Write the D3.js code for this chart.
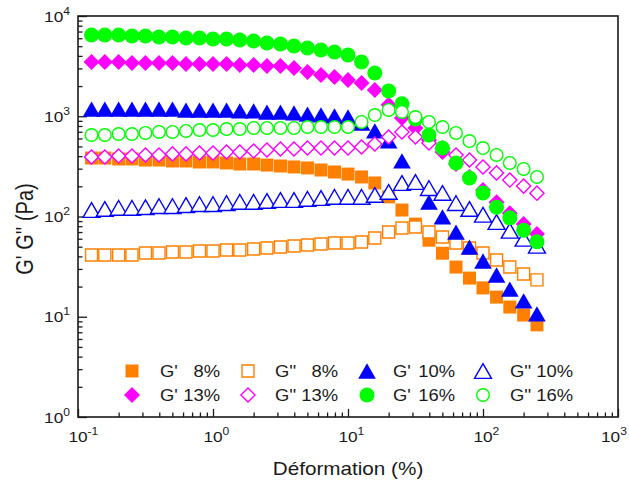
<!DOCTYPE html>
<html><head><meta charset="utf-8">
<script src="https://cdn.jsdelivr.net/npm/d3@7"></script>
<style>
body{margin:0;background:#fff}
svg{display:block}
text{font-family:"Liberation Sans",Arial,sans-serif;fill:#1a1a1a}
</style>
</head><body>
<svg id="c" width="629" height="483"></svg>
<script>
// ---- data ----
const strain = [0.126,0.158,0.2,0.251,0.316,0.398,0.501,0.631,0.794,1,1.26,1.58,2,2.51,3.16,3.98,5.01,6.31,7.94,10,12.6,15.8,20,25.1,31.6,39.8,50.1,63.1,79.4,100,126,158,200,251];
const gp8   = [383,383,375,375,366,366,358,358,350,350,342,334,334,326,319,312,305,291,278,265,248,216,157,116,84,58,43,31.3,24.3,19.4,15.7,12.5,10.4,8.3];
const gpp8  = [41.3,41.3,41.3,41.3,43.3,43.3,44.3,44.3,45.3,45.3,46.3,46.3,47.4,48.5,49.6,50.8,52,53.2,54.4,54.4,55.7,61,70,76.8,78.6,70,62.4,54.4,48.5,43.3,36.8,31.3,26.7,23.3];
const gp10  = [1180,1180,1180,1180,1180,1180,1180,1150,1150,1150,1150,1130,1130,1100,1100,1080,1050,1030,1010,983,856,713,567,358,221,139,99,70,49.6,36,26.1,18.9,14.4,10.7];
const gpp10 = [116,119,122,122,124,127,127,130,133,133,136,140,140,143,146,146,150,153,157,157,157,164,176,216,221,192,172,136,119,104,88,72,60,51];
const gp13  = [3480,3480,3480,3400,3400,3400,3400,3320,3320,3320,3320,3250,3250,3170,3170,3030,2760,2580,2460,2300,2150,1830,1300,960,763,580,440,334,248,184,139,108,84,67];
const gpp13 = [392,392,401,401,411,411,421,421,430,430,440,440,450,461,471,471,482,482,482,482,493,529,621,697,621,541,482,411,366,312,272,231,201,171];
const gp16  = [6460,6460,6460,6320,6320,6170,6170,6030,6030,5900,5900,5760,5630,5380,5260,5020,4800,4580,4380,4080,3480,2700,1790,1330,940,650,482,342,242,172,124,97,73,56];
const gpp16 = [650,650,665,665,681,697,697,713,729,729,746,746,764,764,764,764,781,781,781,781,877,1028,1155,1103,982,877,781,681,566,482,411,342,298,248];

const seriesNames = ["G'","G''","G'","G''","G'","G''","G'","G''"];
const seriesConc  = ["8%","8%","10%","10%","13%","13%","16%","16%"];
const seriesData  = [gp8,gpp8,gp10,gpp10,gp13,gpp13,gp16,gpp16];
const xMajor = [0.1,1,10,100,1000];
const xMajorExp = ["-1","0","1","2","3"];
const yMajor = [1,10,100,1000,10000];
const yMajorExp = ["0","1","2","3","4"];
const xTitle = "Déformation (%)";
const yTitle = "G' G'' (Pa)";

// ---- styles ----
const colors  = ["#ff8000","#ff8000","#0000ff","#0000ff","#ff00ff","#ff00ff","#00ff00","#00ff00"];
const shapes  = ["square","square","triangle","triangle","diamond","diamond","circle","circle"];
const filled  = [true,false,true,false,true,false,true,false];

const L=78,R=618,T=16,B=417, SX=1.15;
const svg = d3.select("#c");
const x = d3.scaleLog().domain([0.1,1000]).range([L,R]);
const y = d3.scaleLog().domain([1,10000]).range([B,T]);

function minorTicks(lo,hi){const t=[];for(let d=lo;d<hi;d*=10){for(let m=1;m<10;m++)t.push(d*m);}t.push(hi);return t;}
const xTicks = minorTicks(0.1,1000), yTicks = minorTicks(1,10000);
const isMajor = v => Math.abs(Math.log10(v)-Math.round(Math.log10(v)))<1e-6;

// axes ticks (inward)
const gx = svg.append("g").attr("transform",`translate(0,${B})`)
  .call(d3.axisBottom(x).tickValues(xTicks).tickSize(-8).tickFormat(()=>"").tickSizeOuter(0));
gx.select(".domain").remove();
gx.selectAll(".tick line").attr("stroke","#1a1a1a").attr("stroke-width",1.3).attr("y2",d=>isMajor(d)?-8:-4.5);
const gy = svg.append("g").attr("transform",`translate(${L},0)`)
  .call(d3.axisLeft(y).tickValues(yTicks).tickSize(-9).tickFormat(()=>"").tickSizeOuter(0));
gy.select(".domain").remove();
gy.selectAll(".tick line").attr("stroke","#1a1a1a").attr("stroke-width",1.3).attr("x2",d=>isMajor(d)?9:4.5);

// frame
svg.append("rect").attr("x",L).attr("y",T).attr("width",R-L).attr("height",B-T)
  .attr("fill","none").attr("stroke","#1a1a1a").attr("stroke-width",1.6);

// tick labels
function powLabel(gx0,gy0,exp,anchor){
  const g = svg.append("g").attr("transform",`translate(${gx0},${gy0}) scale(${SX},1)`);
  const t = g.append("text").attr("text-anchor",anchor).attr("font-size",15);
  t.append("tspan").text("10");
  t.append("tspan").attr("font-size",10.5).attr("dy",-7).text(exp);
}
xMajor.forEach((v,i)=>powLabel(Math.min(x(v)-9.6,601),442,xMajorExp[i],"start"));
yMajor.forEach((v,i)=>powLabel(70,y(v)+5.5,yMajorExp[i],"end"));

// titles
svg.append("g").attr("transform",`translate(348,475) scale(${SX},1)`)
  .append("text").attr("text-anchor","middle").attr("font-size",18).text(xTitle);
svg.append("g").attr("transform",`translate(33,229) rotate(-90) scale(1,${SX})`)
  .append("text").attr("text-anchor","middle").attr("font-size",20).text(yTitle);

// symbols
const symSize = {square:[169,144], triangle:[135,125], diamond:[128,100], circle:[177,125]};
function symPath(shape,isFilled){
  const sz = symSize[shape][isFilled?0:1];
  const type = shape==="circle"?d3.symbolCircle: shape==="triangle"?d3.symbolTriangle: d3.symbolSquare;
  return d3.symbol().type(type).size(sz)();
}
function symTransform(shape,px,py,isFilled){
  if(shape==="diamond") return `translate(${px},${py}) rotate(45)`;
  if(shape==="triangle"){const sz=symSize.triangle[isFilled?0:1];const yy=Math.sqrt(sz/(Math.sqrt(3)*3));return `translate(${px},${py+yy/2})`;}
  return `translate(${px},${py})`;
}

seriesData.forEach((vals,si)=>{
  const g = svg.append("g");
  const pts = strain.map((s,i)=>[s,vals[i]]);
  g.selectAll("path").data(pts).join("path")
    .attr("d",symPath(shapes[si],filled[si]))
    .attr("transform",d=>symTransform(shapes[si],x(d[0]),y(d[1]),filled[si]))
    .attr("fill",filled[si]?colors[si]:"#fff")
    .attr("stroke",filled[si]?"none":colors[si])
    .attr("stroke-width",1.4);
});

// legend
const legCols = [{mx:132,tx:160,te:220},{mx:248,tx:275,te:338},{mx:367,tx:393,te:455},{mx:483,tx:510,te:573}];
const legRows = [371,395];
const legOrder = [0,1,2,3,4,5,6,7];
legOrder.forEach((si,k)=>{
  const c = legCols[k%4], ry = legRows[Math.floor(k/4)];
  svg.append("path").attr("d",symPath(shapes[si],filled[si]))
    .attr("transform",symTransform(shapes[si],c.mx,ry,filled[si]))
    .attr("fill",filled[si]?colors[si]:"#fff")
    .attr("stroke",filled[si]?"none":colors[si]).attr("stroke-width",1.4);
  svg.append("g").attr("transform",`translate(${c.tx},${ry+6}) scale(${SX},1)`)
    .append("text").attr("font-size",16).text(seriesNames[si]);
  svg.append("g").attr("transform",`translate(${c.te},${ry+6}) scale(${SX},1)`)
    .append("text").attr("font-size",16).attr("text-anchor","end").text(seriesConc[si]);
});
</script>
</body></html>
